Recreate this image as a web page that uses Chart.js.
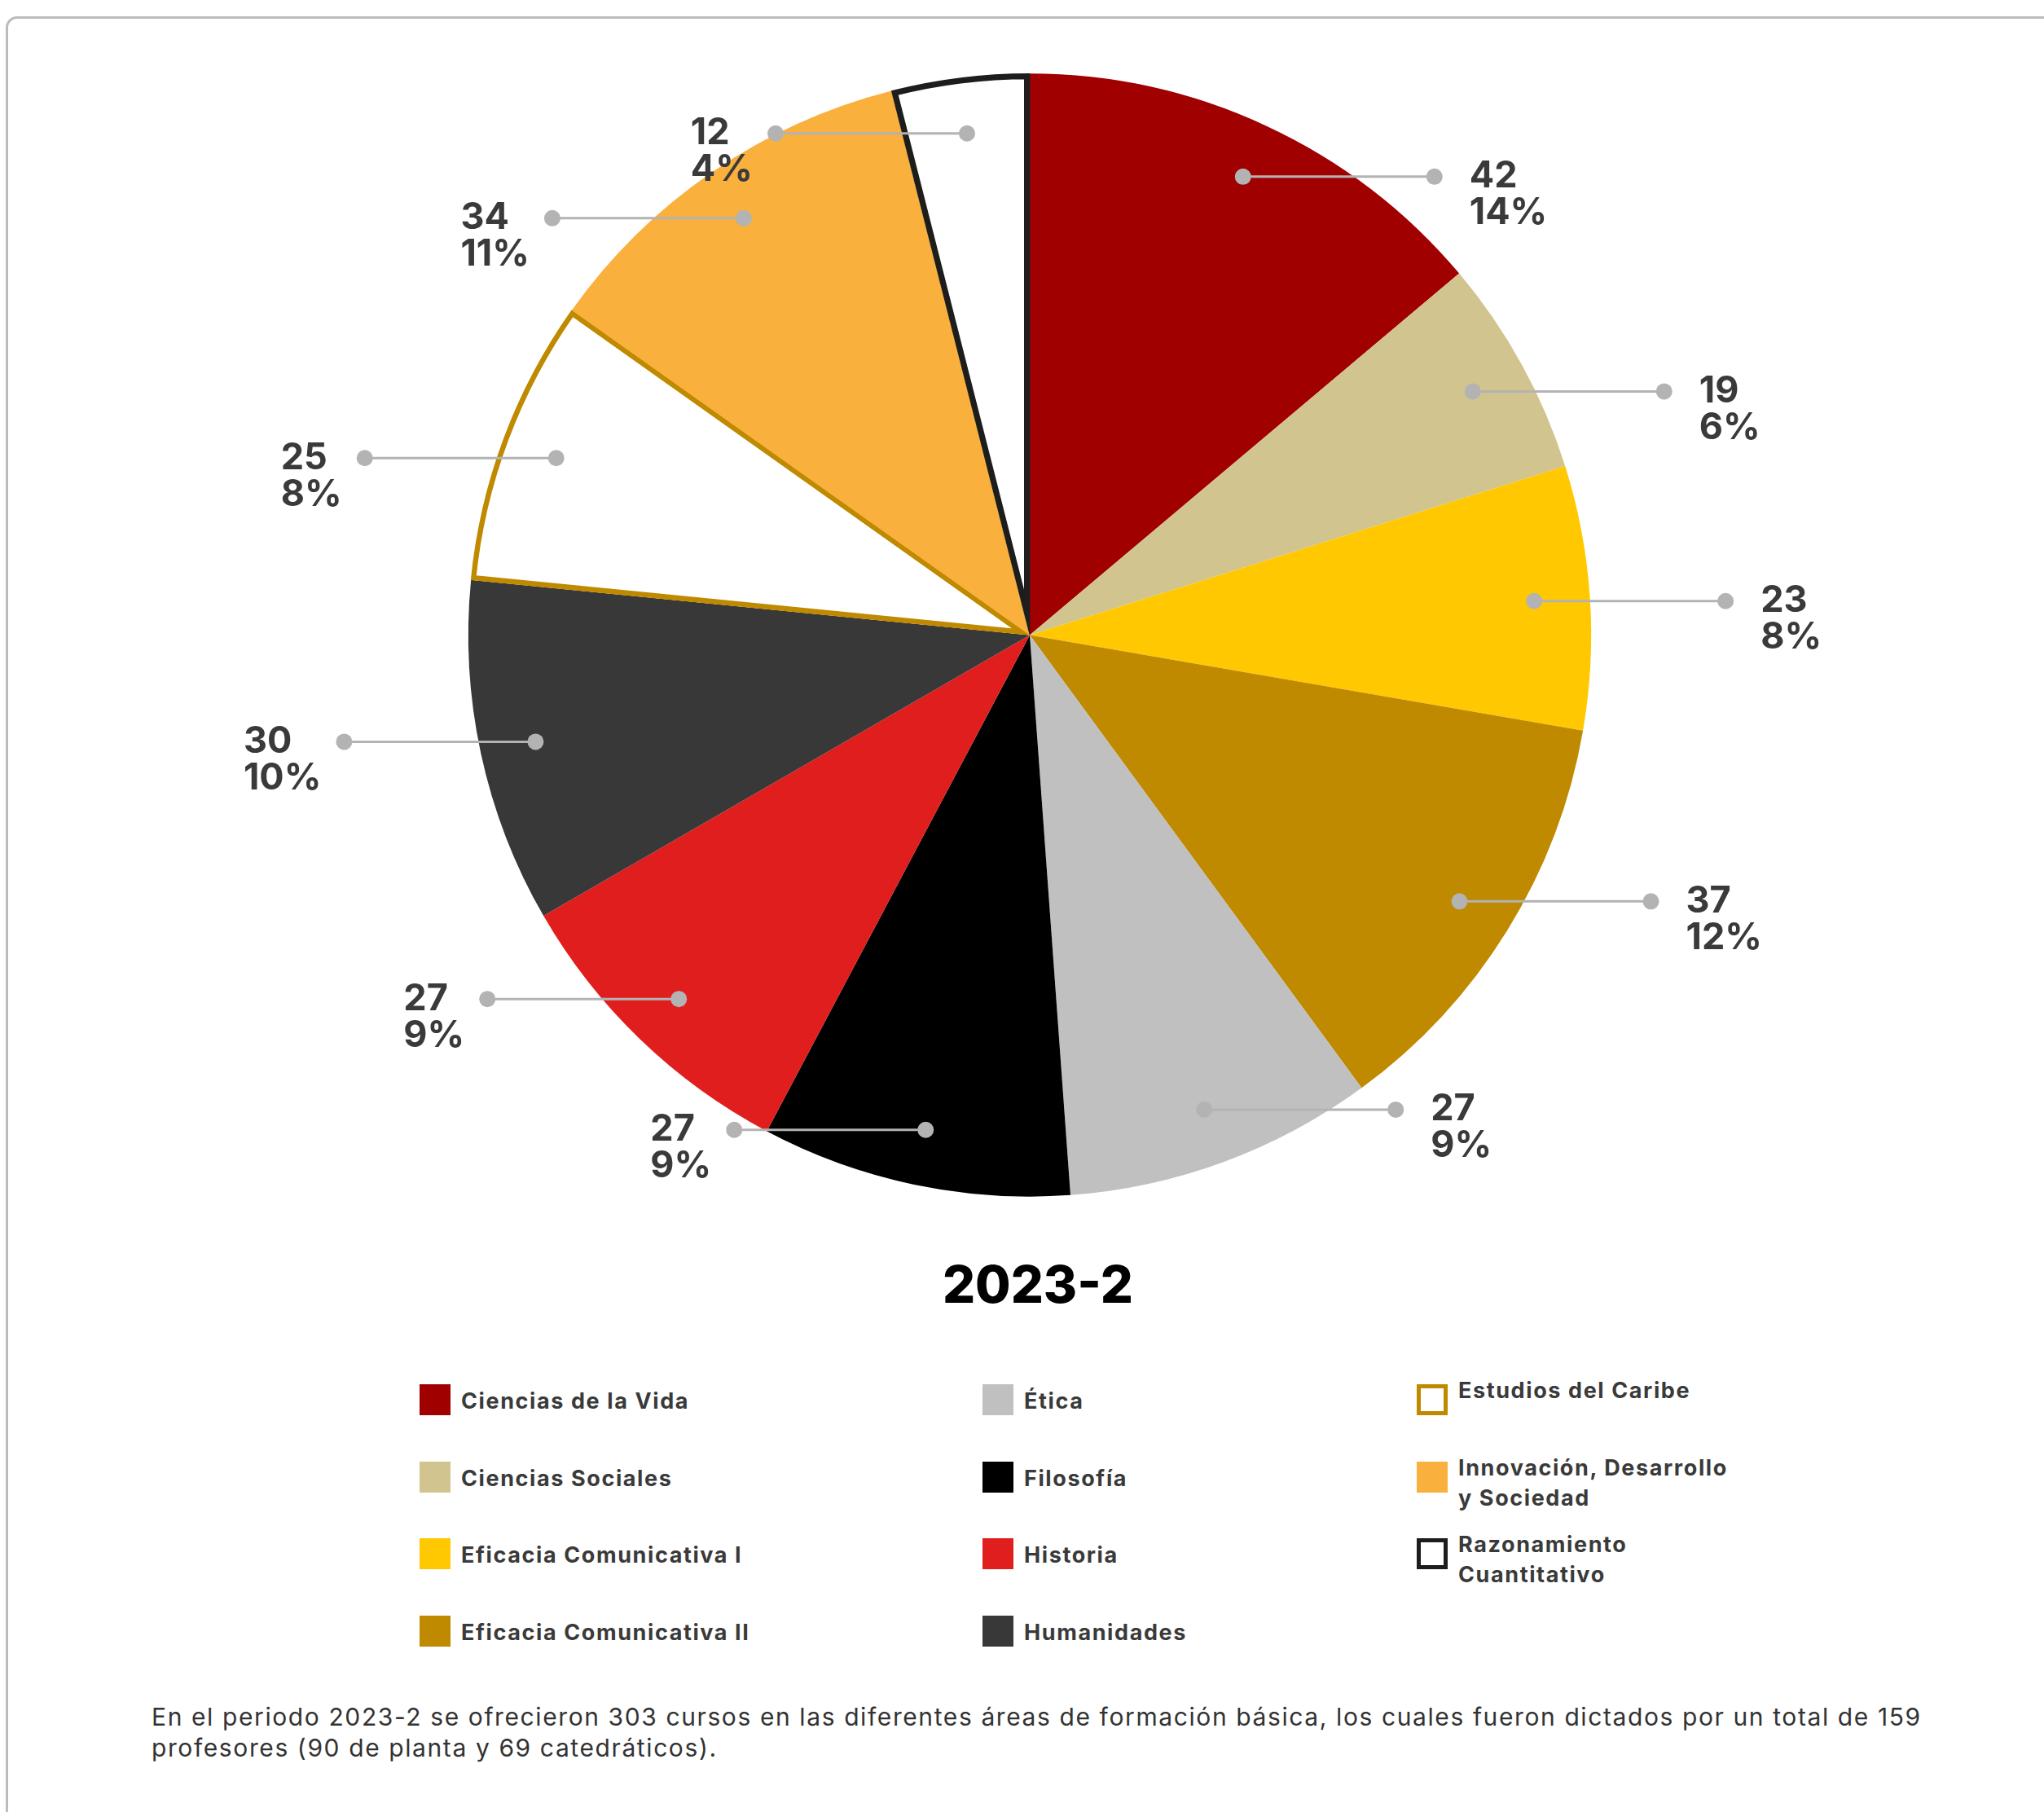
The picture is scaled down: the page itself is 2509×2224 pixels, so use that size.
<!DOCTYPE html>
<html>
<head>
  <meta charset="utf-8">
  <script src="https://cdn.jsdelivr.net/npm/chart.js@4.4.1/dist/chart.umd.min.js"></script>
  <style>
    html, body { margin: 0; padding: 0; background: #fff; }
    body { width: 2509px; height: 2224px; overflow: hidden; position: relative; font-family: Inter, 'Noto Sans', sans-serif; }
    #card { position: absolute; left: 7px; top: 20px; width: 2600px; height: 2400px; border: 3px solid #bcbcbc; border-radius: 14px; box-sizing: border-box; }
    #chartBox { position: absolute; left: 0; top: 0; width: 2509px; height: 1500px; }
    #title { position: absolute; left: 1074px; width: 400px; top: 1538px; text-align: center; font-size: 63px; font-weight: 800; color: #000; line-height: 76px; }
    #legend { position: absolute; left: 515px; top: 1699px; }
    .item { position: absolute; display: flex; align-items: flex-start; width: 600px; }
    .swatch { width: 38px; height: 38px; box-sizing: border-box; flex: none; }
    .label { margin-left: 13px; font-size: 27px; font-weight: 700; color: #3a3a3a; line-height: 37px; white-space: pre; letter-spacing: 1.6px; }
    #note { position: absolute; left: 186px; top: 2088px; font-size: 30px; letter-spacing: 1.6px; color: #333; line-height: 38px; font-weight: 400; white-space: nowrap; }
  </style>
</head>
<body>
  <div id="card"></div>
  <div id="chartBox"><canvas id="coursesPie" width="2509" height="1500"></canvas></div>
  <div id="title">2023-2</div>
  <div id="legend"></div>
  <div id="note">En el periodo 2023-2 se ofrecieron 303 cursos en las diferentes áreas de formación básica, los cuales fueron dictados por un total de 159<br>profesores (90 de planta y 69 catedráticos).</div>

  <script>
    var categories = [
      'Ciencias de la Vida',
      'Ciencias Sociales',
      'Eficacia Comunicativa I',
      'Eficacia Comunicativa II',
      'Ética',
      'Filosofía',
      'Historia',
      'Humanidades',
      'Estudios del Caribe',
      'Innovación, Desarrollo\ny Sociedad',
      'Razonamiento\nCuantitativo'
    ];
    var courses = [42, 19, 23, 37, 27, 27, 27, 30, 25, 34, 12];

    var fills = ['#a00000', '#d2c48e', '#ffc800', '#bf8900', '#c0c0c0', '#000000', '#e01e1e', '#383838', '#ffffff', '#f9b03c', '#ffffff'];
    var strokes = ['#a00000', '#d2c48e', '#ffc800', '#bf8900', '#c0c0c0', '#000000', '#e01e1e', '#383838', '#bf8900', '#f9b03c', '#1d1d1b'];
    var strokeWidths = [0, 0, 0, 0, 0, 0, 0, 0, 6, 0, 7];

    var total = courses.reduce((a, b) => a + b, 0);

    // leader lines with a dot on each end, value and percentage beside the outer dot
    var leaderLabels = {
      id: 'leaderLabels',
      afterDatasetsDraw(chart) {
        var ctx = chart.ctx;
        var arcs = chart.getDatasetMeta(0).data;
        ctx.save();
        ctx.font = '700 45px Inter, "Noto Sans", sans-serif';
        arcs.forEach((arc, i) => {
          var p = arc.getProps(['x', 'y', 'startAngle', 'endAngle', 'outerRadius'], true);
          var mid = (p.startAngle + p.endAngle) / 2;
          var ix = p.x + Math.cos(mid) * p.outerRadius * 0.9;
          var iy = p.y + Math.sin(mid) * p.outerRadius * 0.9;
          var right = Math.cos(mid) >= 0;
          var ox = ix + (right ? 235 : -235);

          ctx.strokeStyle = '#b3b3b3';
          ctx.lineWidth = 3;
          ctx.beginPath();
          ctx.moveTo(ix, iy);
          ctx.lineTo(ox, iy);
          ctx.stroke();
          ctx.fillStyle = '#b3b3b3';
          [ix, ox].forEach(x => {
            ctx.beginPath();
            ctx.arc(x, iy, 10, 0, Math.PI * 2);
            ctx.fill();
          });

          var lines = [String(courses[i]), Math.round(courses[i] / total * 100) + '%'];
          var w = Math.max(...lines.map(t => ctx.measureText(t).width));
          var tx = right ? ox + 43 : ox - 28 - w;
          ctx.fillStyle = '#3a3a3a';
          ctx.textAlign = 'left';
          ctx.textBaseline = 'middle';
          lines.forEach((t, k) => ctx.fillText(t, tx, iy + k * 45));
        });
        ctx.restore();
      }
    };

    function drawPie() {
      var ctx = document.getElementById('coursesPie').getContext('2d');
      new Chart(ctx, {
        type: 'pie',
        data: {
          labels: categories,
          datasets: [{
            data: courses,
            backgroundColor: fills,
            borderColor: strokes,
            borderWidth: strokeWidths,
            hoverBorderWidth: strokeWidths,
            borderAlign: 'inner',
            borderJoinStyle: 'miter'
          }]
        },
        options: {
          responsive: false,
          animation: false,
          events: [],
          layout: { padding: { top: 90, bottom: 31, left: 19, right: 0 } },
          plugins: {
            legend: { display: false },
            tooltip: { enabled: false }
          }
        },
        plugins: [leaderLabels]
      });
    }

    function buildLegend() {
      var box = document.getElementById('legend');
      var colX = [0, 691, 1224];
      categories.forEach((name, i) => {
        var col = Math.floor(i / 4), row = i % 4;
        var item = document.createElement('div');
        item.className = 'item';
        item.style.left = colX[col] + 'px';
        item.style.top = (row * 94.5) + 'px';
        var sw = document.createElement('div');
        sw.className = 'swatch';
        sw.style.background = fills[i];
        if (strokeWidths[i] > 0) sw.style.border = '5px solid ' + strokes[i];
        var lb = document.createElement('div');
        lb.className = 'label';
        lb.style.marginTop = col === 2 ? '-11px' : '2px';
        lb.textContent = name;
        item.appendChild(sw);
        item.appendChild(lb);
        box.appendChild(item);
      });
    }

    window.onload = function () {
      buildLegend();
      drawPie();
    };
  </script>
</body>
</html>
